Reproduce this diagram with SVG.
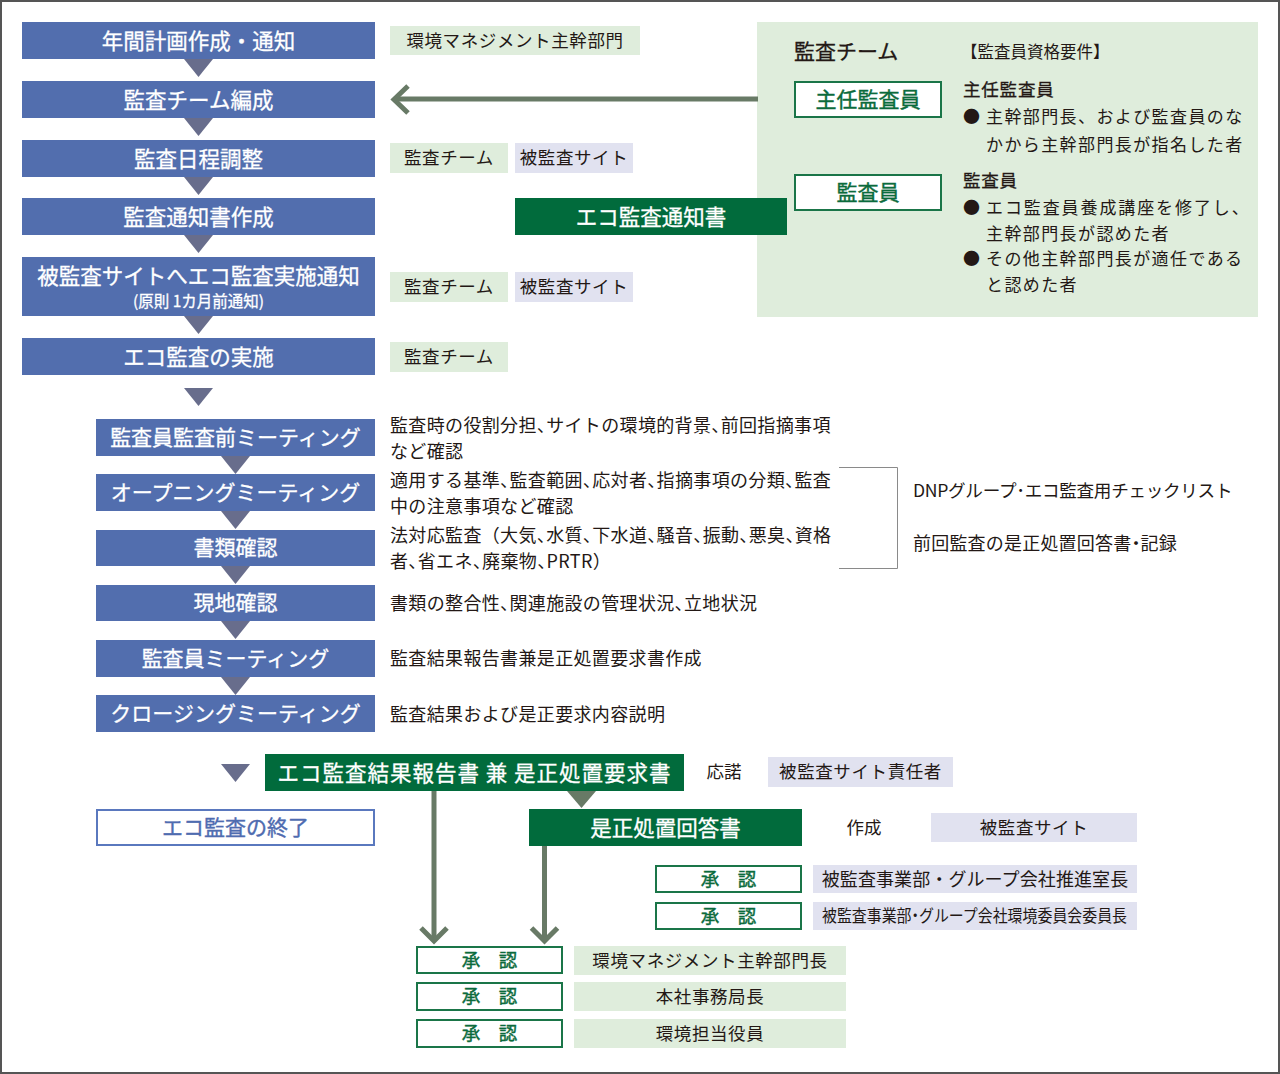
<svg xmlns="http://www.w3.org/2000/svg" width="1280" height="1074" viewBox="0 0 1280 1074">
<style>
text{font-family:"Noto Sans CJK JP","Noto Sans CJK SC",sans-serif;dominant-baseline:central;fill:#231815}
.bx{fill:#526eae}
.wt{fill:#fff;stroke:#fff;stroke-width:0.3px;font-size:21.5px;text-anchor:middle}
.tri{fill:#686d8c}
.gl{fill:#dfeddc}
.pl{fill:#e1e2f0}
.lb{font-size:17.5px;text-anchor:middle;letter-spacing:0.6px}
.ds{font-size:18px;font-feature-settings:"halt";letter-spacing:0.35px}
.dg{fill:#016b3c}
.ok{fill:#fff;stroke:#1a7548;stroke-width:2}
.okt{fill:#0b6b3c;stroke:#0b6b3c;stroke-width:0.4px;font-size:18.5px;text-anchor:middle}
.ar{stroke:#687a66;stroke-width:5;fill:none}
.rp{font-size:17px;letter-spacing:1.4px}
.hd{stroke:#231815;stroke-width:0.3px}
</style>
<rect x="1" y="1" width="1278" height="1072" fill="#fff" stroke="#555" stroke-width="2"/>

<g id="team-panel">
<rect x="757" y="22" width="501" height="295" fill="#dfeddc"/>
<text x="794" y="50" class="hd" style="font-size:21px">監査チーム</text>
<rect x="795" y="82" width="146" height="35" class="ok"/>
<text x="868" y="98" style="fill:#0b6b3c;stroke:#0b6b3c;stroke-width:0.4px;font-size:21px;text-anchor:middle">主任監査員</text>
<rect x="795" y="175" width="146" height="35" class="ok"/>
<text x="868" y="191" style="fill:#0b6b3c;stroke:#0b6b3c;stroke-width:0.4px;font-size:21px;text-anchor:middle">監査員</text>
<text x="961" y="51" style="font-size:16.5px">【監査員資格要件】</text>
<text x="963" y="88" class="hd" style="font-size:17.5px;letter-spacing:0.8px">主任監査員</text>
<text x="963" y="115" class="rp">●</text>
<text x="986" y="115" class="rp">主幹部門長、および監査員のな</text>
<text x="986" y="143" class="rp">かから主幹部門長が指名した者</text>
<text x="963" y="179" class="hd" style="font-size:17.5px;letter-spacing:0.8px">監査員</text>
<text x="963" y="206" class="rp">●</text>
<text x="986" y="206" class="rp" style="letter-spacing:1.9px">エコ監査員養成講座を修了し、</text>
<text x="986" y="232" class="rp">主幹部門長が認めた者</text>
<text x="963" y="257" class="rp">●</text>
<text x="986" y="257" class="rp">その他主幹部門長が適任である</text>
<text x="986" y="283" class="rp">と認めた者</text>
</g>

<g id="connectors">
<polygon class="tri" points="184,59 213,59 198.5,77"/>
<polygon class="tri" points="184,118 213,118 198.5,136"/>
<polygon class="tri" points="184,177 213,177 198.5,195"/>
<polygon class="tri" points="184,235 213,235 198.5,253"/>
<polygon class="tri" points="184,316 213,316 198.5,334"/>
<polygon class="tri" points="184,388 213,388 198.5,406"/>
<polygon class="tri" points="221,456 250,456 235.5,474"/>
<polygon class="tri" points="221,511 250,511 235.5,529"/>
<polygon class="tri" points="221,566 250,566 235.5,584"/>
<polygon class="tri" points="221,621 250,621 235.5,639"/>
<polygon class="tri" points="221,677 250,677 235.5,695"/>
<polygon class="tri" points="221,764 250,764 235.5,782"/>
<line class="ar" x1="758" y1="99" x2="394" y2="99"/>
<path class="ar" d="M408,86 L394,99.5 L408,113"/>
<polygon points="567,791 596,791 581.5,808" fill="#687a66"/>
<line class="ar" x1="434" y1="791" x2="434" y2="941"/>
<path class="ar" d="M421,928 L434,941 L447,928"/>
<line class="ar" x1="544.5" y1="846" x2="544.5" y2="941"/>
<path class="ar" d="M531.5,928 L544.5,941 L557.5,928"/>
<path d="M839,467.5 H897.5 V568.5 H839" fill="none" stroke="#8a8a8a" stroke-width="1"/>
</g>

<g id="n-plan"><rect class="bx" x="22" y="22" width="353" height="37"/><text class="wt" x="198.5" y="39">年間計画作成・通知</text></g>
<g id="n-team"><rect class="bx" x="22" y="81" width="353" height="37"/><text class="wt" x="198.5" y="98">監査チーム編成</text></g>
<g id="n-schedule"><rect class="bx" x="22" y="140" width="353" height="37"/><text class="wt" x="198.5" y="157">監査日程調整</text></g>
<g id="n-notice"><rect class="bx" x="22" y="198" width="353" height="37"/><text class="wt" x="198.5" y="215">監査通知書作成</text></g>
<g id="n-inform"><rect class="bx" x="22" y="257" width="353" height="59"/><text class="wt" x="198.5" y="274">被監査サイトへエコ監査実施通知</text><text class="wt" x="198.5" y="299.5" style="font-size:15.5px;stroke-width:0.3px">(原則 1カ月前通知)</text></g>
<g id="n-exec"><rect class="bx" x="22" y="338" width="353" height="37"/><text class="wt" x="198.5" y="355">エコ監査の実施</text></g>

<g id="n-pre"><rect class="bx" x="96" y="419" width="279" height="37"/><text class="wt" x="235.5" y="436" style="font-size:21px">監査員監査前ミーティング</text></g>
<g id="n-open"><rect class="bx" x="96" y="474" width="279" height="37"/><text class="wt" x="235.5" y="491" style="font-size:21px">オープニングミーティング</text></g>
<g id="n-docs"><rect class="bx" x="96" y="530" width="279" height="36"/><text class="wt" x="235.5" y="546" style="font-size:21px">書類確認</text></g>
<g id="n-site"><rect class="bx" x="96" y="585" width="279" height="36"/><text class="wt" x="235.5" y="601" style="font-size:21px">現地確認</text></g>
<g id="n-auditor"><rect class="bx" x="96" y="640" width="279" height="37"/><text class="wt" x="235.5" y="657" style="font-size:21px">監査員ミーティング</text></g>
<g id="n-close"><rect class="bx" x="96" y="695" width="279" height="37"/><text class="wt" x="235.5" y="712" style="font-size:21px">クロージングミーティング</text></g>

<g id="labels-top">
<rect class="gl" x="390" y="26" width="250" height="29"/><text class="lb" x="515" y="39">環境マネジメント主幹部門</text>
<rect class="gl" x="390" y="143" width="118" height="30"/><text class="lb" x="449" y="156.5">監査チーム</text>
<rect class="pl" x="515" y="143" width="118" height="30"/><text class="lb" x="574" y="156.5">被監査サイト</text>
<rect class="gl" x="390" y="272" width="118" height="30"/><text class="lb" x="449" y="285.5">監査チーム</text>
<rect class="pl" x="515" y="272" width="118" height="30"/><text class="lb" x="574" y="285.5">被監査サイト</text>
<rect class="gl" x="390" y="342" width="118" height="30"/><text class="lb" x="449" y="355.5">監査チーム</text>
</g>
<g id="n-ecodoc"><rect class="dg" x="515" y="198" width="272" height="37"/><text class="wt" x="651" y="215">エコ監査通知書</text></g>

<g id="descriptions">
<text class="ds" x="390" y="423.5">監査時の役割分担、サイトの環境的背景、前回指摘事項</text>
<text class="ds" x="390" y="449.5">など確認</text>
<text class="ds" x="390" y="478.5">適用する基準、監査範囲、応対者、指摘事項の分類、監査</text>
<text class="ds" x="390" y="504.5">中の注意事項など確認</text>
<text class="ds" x="390" y="533.5">法対応監査<tspan style="font-feature-settings:normal">（</tspan>大気、水質、下水道、騒音、振動、悪臭、資格</text>
<text class="ds" x="390" y="559.5">者、省エネ、廃棄物、PRTR）</text>
<text class="ds" x="390" y="601.5">書類の整合性、関連施設の管理状況、立地状況</text>
<text class="ds" x="390" y="656.5">監査結果報告書兼是正処置要求書作成</text>
<text class="ds" x="390" y="712.5">監査結果および是正要求内容説明</text>
<text class="ds" x="913" y="489.5" style="letter-spacing:-0.3px;font-size:17.6px">DNPグループ･エコ監査用チェックリスト</text>
<text class="ds" x="913" y="541.5" style="letter-spacing:0.2px">前回監査の是正処置回答書・記録</text>
</g>

<g id="n-report"><rect class="dg" x="265" y="754" width="419" height="37"/><text class="wt" x="474.5" y="771" style="letter-spacing:1px">エコ監査結果報告書 兼 是正処置要求書</text></g>
<g id="n-end"><rect x="97" y="810" width="277" height="35" fill="#fff" stroke="#5a78be" stroke-width="2"/><text x="235.5" y="826" style="fill:#4f6cb0;stroke:#4f6cb0;stroke-width:0.4px;font-size:21px;text-anchor:middle">エコ監査の終了</text></g>
<g id="n-answer"><rect class="dg" x="529" y="809" width="273" height="37"/><text class="wt" x="665.5" y="826">是正処置回答書</text></g>

<g id="labels-bottom">
<text x="724" y="770.5" style="font-size:17.5px;text-anchor:middle">応諾</text>
<rect class="pl" x="768" y="757" width="185" height="30"/><text class="lb" x="860.5" y="770.5">被監査サイト責任者</text>
<text x="864" y="826.5" style="font-size:17.5px;text-anchor:middle">作成</text>
<rect class="pl" x="931" y="813" width="206" height="29"/><text class="lb" x="1034" y="826">被監査サイト</text>
</g>

<g id="n-approve-r1"><rect class="ok" x="656" y="866" width="145" height="26"/><text class="okt" x="728.5" y="877.5">承　認</text></g>
<g id="n-approve-r2"><rect class="ok" x="656" y="903" width="145" height="26"/><text class="okt" x="728.5" y="914.5">承　認</text></g>
<rect class="pl" x="813" y="865" width="324" height="28"/><text x="975" y="877.5" style="font-size:18px;text-anchor:middle;letter-spacing:0.1px">被監査事業部・グループ会社推進室長</text>
<rect class="pl" x="813" y="902" width="324" height="28"/><text x="822" y="914.5" textLength="305" lengthAdjust="spacingAndGlyphs" style="font-size:16.5px;font-feature-settings:'halt'">被監査事業部・グループ会社環境委員会委員長</text>

<g id="n-approve-1"><rect class="ok" x="417" y="947" width="145" height="26"/><text class="okt" x="489.5" y="958.5">承　認</text></g>
<g id="n-approve-2"><rect class="ok" x="417" y="983" width="145" height="27"/><text class="okt" x="489.5" y="995">承　認</text></g>
<g id="n-approve-3"><rect class="ok" x="417" y="1020" width="145" height="27"/><text class="okt" x="489.5" y="1032">承　認</text></g>
<rect class="gl" x="574" y="946" width="272" height="29"/><text class="lb" x="710" y="959">環境マネジメント主幹部門長</text>
<rect class="gl" x="574" y="982" width="272" height="29"/><text class="lb" x="710" y="995">本社事務局長</text>
<rect class="gl" x="574" y="1019" width="272" height="29"/><text class="lb" x="710" y="1032">環境担当役員</text>
</svg>
